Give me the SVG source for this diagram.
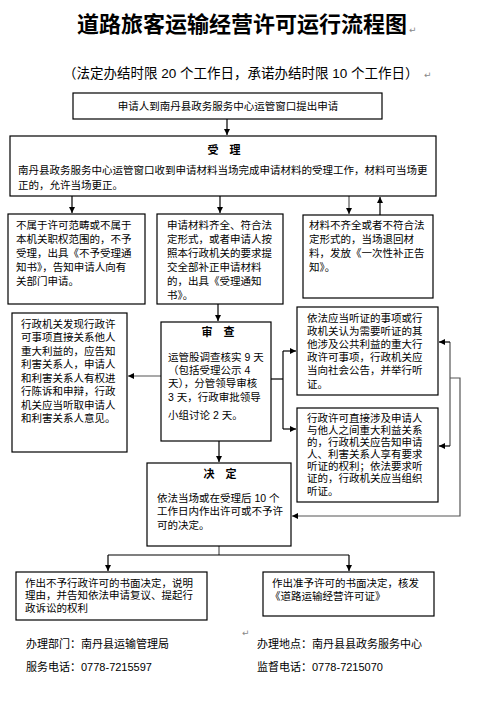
<svg xmlns="http://www.w3.org/2000/svg" width="479" height="706" viewBox="0 0 479 706">
<defs>
<marker id="ah" markerUnits="userSpaceOnUse" markerWidth="7" markerHeight="7" refX="6" refY="3" orient="auto">
<path d="M0,0 L6,3 L0,6 z" fill="#000"/>
</marker>
<style>
.box{fill:#fff;stroke:#000;stroke-width:1.2}
.t{font-family:"Liberation Sans","Noto Sans CJK SC",sans-serif;font-size:10.5px;fill:#000}
.h{font-family:"Liberation Sans","Noto Sans CJK SC",sans-serif;font-size:11px;font-weight:bold;fill:#000}
.f{font-family:"Liberation Sans","Noto Sans CJK SC",sans-serif;font-size:11px;fill:#000}
.pm{font-family:"DejaVu Sans",sans-serif;font-size:9px;fill:#888}
.c{fill:none;stroke:#000;stroke-width:1.2}
.cg{fill:none;stroke:#555;stroke-width:1.2}
</style>
</defs>
<rect width="479" height="706" fill="#fff"/>
<g id="title">
<text x="242" y="32" text-anchor="middle" font-family="'Liberation Sans','Noto Sans CJK SC',sans-serif" font-size="22" font-weight="bold">道路旅客运输经营许可运行流程图</text>
<text x="409" y="33" class="pm">↵</text>
<text x="63" y="78" font-family="'Liberation Sans','Noto Sans CJK SC',sans-serif" font-size="13.5">（法定办结时限 20 个工作日，承诺办结时限 10 个工作日）</text>
<text x="424" y="78" class="pm">↵</text>
</g>
<g id="connectors">
<path class="c" d="M227,119 V135" marker-end="url(#ah)"/>
<path class="c" d="M72,196 V213" marker-end="url(#ah)"/>
<path class="c" d="M220,196 V213" marker-end="url(#ah)"/>
<path class="cg" d="M349,196 V214" marker-end="url(#ah)"/>
<path class="c" d="M380,215 V197" marker-end="url(#ah)"/>
<path class="c" d="M218,304 V321" marker-end="url(#ah)"/>
<path class="cg" d="M161,376 H128" marker-end="url(#ah)"/>
<path class="c" d="M271,379 H283"/>
<path class="c" d="M283,351 V429"/>
<path class="c" d="M283,351 H296" marker-end="url(#ah)"/>
<path class="c" d="M283,429 H296" marker-end="url(#ah)"/>
<path class="cg" d="M450,378 H460 V516 H292" marker-end="url(#ah)"/>
<path class="cg" d="M450,342 V446"/>
<path class="c" d="M450,342 H439" marker-end="url(#ah)"/>
<path class="c" d="M450,446 H439" marker-end="url(#ah)"/>
<path class="c" d="M219,441 V462" marker-end="url(#ah)"/>
<path class="cg" d="M219,546 V555"/>
<path class="c" d="M108,555 H349"/>
<path class="c" d="M108,555 V571" marker-end="url(#ah)"/>
<path class="c" d="M349,555 V571" marker-end="url(#ah)"/>
</g>
<g id="apply">
<rect class="box" x="73" y="93" width="309" height="26"/>
<text class="t" x="228" y="110" text-anchor="middle">申请人到南丹县政务服务中心运管窗口提出申请</text>
</g>
<g id="accept">
<rect class="box" x="10" y="136" width="426" height="60"/>
<text class="h" x="224" y="154" text-anchor="middle">受　理</text>
<text class="t" x="18" y="174">南丹县政务服务中心运管窗口收到申请材料当场完成申请材料的受理工作，材料可当场更</text>
<text class="t" x="18" y="189">正的，允许当场更正。</text>
</g>
<g id="reject">
<rect class="box" x="8" y="214" width="137" height="90"/>
<text class="t" x="16" y="229">不属于许可范畴或不属于</text>
<text class="t" x="16" y="243">本机关职权范围的，不予</text>
<text class="t" x="16" y="257">受理，出具《不予受理通</text>
<text class="t" x="16" y="271">知书》，告知申请人向有</text>
<text class="t" x="16" y="285">关部门申请。</text>
</g>
<g id="complete">
<rect class="box" x="157" y="214" width="126" height="90"/>
<text class="t" x="167" y="229">申请材料齐全、符合法</text>
<text class="t" x="167" y="243">定形式，或者申请人按</text>
<text class="t" x="167" y="257">照本行政机关的要求提</text>
<text class="t" x="167" y="271">交全部补正申请材料</text>
<text class="t" x="167" y="285">的，出具《受理通知</text>
<text class="t" x="167" y="299">书》。</text>
</g>
<g id="incomplete">
<rect class="box" x="303" y="215" width="130" height="83"/>
<text class="t" x="309" y="229">材料不齐全或者不符合法</text>
<text class="t" x="309" y="243">定形式的，当场退回材</text>
<text class="t" x="309" y="257">料，发放《一次性补正告</text>
<text class="t" x="309" y="271">知》。</text>
</g>
<g id="notify">
<rect class="box" x="12" y="313" width="115" height="139"/>
<text class="t" x="21" y="328">行政机关发现行政许</text>
<text class="t" x="21" y="341">可事项直接关系他人</text>
<text class="t" x="21" y="355">重大利益的，应告知</text>
<text class="t" x="21" y="368">利害关系人，申请人</text>
<text class="t" x="21" y="382">和利害关系人有权进</text>
<text class="t" x="21" y="395">行陈诉和申辩，行政</text>
<text class="t" x="21" y="409">机关应当听取申请人</text>
<text class="t" x="21" y="422">和利害关系人意见。</text>
</g>
<g id="review">
<rect class="box" x="161" y="322" width="110" height="119"/>
<text class="h" x="218" y="336" text-anchor="middle">审　查</text>
<text class="t" x="168" y="361">运管股调查核实 9 天</text>
<text class="t" x="168" y="374">（包括受理公示 4</text>
<text class="t" x="168" y="387">天），分管领导审核</text>
<text class="t" x="168" y="401">3 天，行政审批领导</text>
<text class="t" x="168" y="419">小组讨论 2 天。</text>
</g>
<g id="hearing1">
<rect class="box" x="297" y="307" width="141" height="88"/>
<text class="t" x="307" y="322">依法应当听证的事项或行</text>
<text class="t" x="307" y="335">政机关认为需要听证的其</text>
<text class="t" x="307" y="348">他涉及公共利益的重大行</text>
<text class="t" x="307" y="361">政许可事项，行政机关应</text>
<text class="t" x="307" y="374">当向社会公告，并举行听</text>
<text class="t" x="307" y="388">证。</text>
</g>
<g id="hearing2">
<rect class="box" x="297" y="408" width="141" height="94"/>
<text class="t" x="307" y="422">行政许可直接涉及申请人</text>
<text class="t" x="307" y="434">与他人之间重大利益关系</text>
<text class="t" x="307" y="446">的，行政机关应告知申请</text>
<text class="t" x="307" y="458">人、利害关系人享有要求</text>
<text class="t" x="307" y="470">听证的权利；依法要求听</text>
<text class="t" x="307" y="482">证的，行政机关应当组织</text>
<text class="t" x="307" y="495">听证。</text>
</g>
<g id="decide">
<rect class="box" x="147" y="463" width="144" height="83"/>
<text class="h" x="220" y="478" text-anchor="middle">决　定</text>
<text class="t" x="157" y="502">依法当场或在受理后 10 个</text>
<text class="t" x="157" y="515">工作日内作出许可或不予许</text>
<text class="t" x="157" y="529">可的决定。</text>
</g>
<g id="deny">
<rect class="box" x="16" y="572" width="191" height="48"/>
<text class="t" x="25" y="587">作出不予行政许可的书面决定，说明</text>
<text class="t" x="25" y="599">理由，并告知依法申请复议、提起行</text>
<text class="t" x="25" y="612">政诉讼的权利</text>
</g>
<g id="grant">
<rect class="box" x="263" y="572" width="171" height="44"/>
<text class="t" x="272" y="587">作出准予许可的书面决定，核发</text>
<text class="t" x="270" y="600">《道路运输经营许可证》</text>
</g>
<g id="footer">
<text x="242" y="636" class="pm">↵</text>
<text class="f" x="26" y="648">办理部门：南丹县运输管理局</text>
<text class="f" x="26" y="671">服务电话：0778-7215597</text>
<text class="f" x="257" y="648">办理地点：南丹县县政务服务中心</text>
<text class="f" x="257" y="671">监督电话：0778-7215070</text>
</g>
</svg>
